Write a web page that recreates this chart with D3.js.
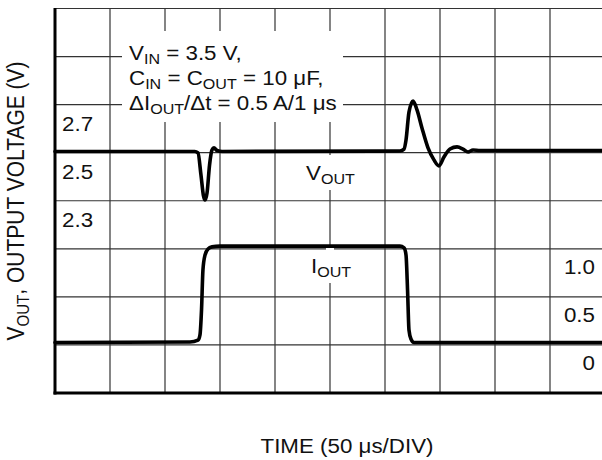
<!DOCTYPE html>
<html>
<head>
<meta charset="utf-8">
<script src="https://cdn.jsdelivr.net/npm/d3@7"></script>
<style>
  html, body { margin: 0; padding: 0; background: #fff; }
  svg { display: block; }
  text { font-family: "Liberation Sans", Arial, Helvetica, sans-serif; fill: #111; }
</style>
</head>
<body>
<svg id="chart" width="602" height="460"></svg>
<script>
// ---- data (time in µs, 50 µs/div) ----
const timeTicks = [0, 50, 100, 150, 200, 250, 300, 350, 400, 450, 500];
const voltGrid = [1.5, 1.7, 1.9, 2.1, 2.3, 2.5, 2.7, 2.9, 3.1];
const voltTickLabels = ["2.7", "2.5", "2.3"];
const voltTickValues = [2.7, 2.5, 2.3];
const currTickLabels = ["1.0", "0.5", "0"];
const currTickValues = [1.0, 0.5, 0];

const voutTime = [0, 127, 130, 132.7, 135, 136.4, 138.2, 140.5, 142.7, 144.5, 147.3, 152,
  313.6, 317.3, 319.1, 321.8, 325.5, 329.1, 333.6, 339.1, 344.5, 349.1, 353.6, 359.1,
  365.5, 370.9, 375.5, 380, 386.4, 500];
const voutValue = [2.505, 2.505, 2.499, 2.407, 2.32, 2.303, 2.332, 2.449, 2.511, 2.52, 2.509, 2.505,
  2.507, 2.515, 2.553, 2.669, 2.715, 2.678, 2.603, 2.52, 2.47, 2.445, 2.482, 2.515,
  2.524, 2.515, 2.503, 2.511, 2.509, 2.509];

const ioutTime = [0, 122.7, 130, 131.8, 133.2, 134.5, 136.4, 139.1, 142.7, 150,
  313.6, 317.3, 319.1, 320.5, 321.8, 323.6, 326.4, 500];
const ioutValue = [0.025, 0.03, 0.05, 0.104, 0.364, 0.78, 0.936, 0.999, 1.02, 1.028,
  1.028, 1.009, 0.936, 0.572, 0.156, 0.062, 0.025, 0.025];

const annotationLines = [
  [["V"], ["IN", 1], [" = 3.5 V,"]],
  [["C"], ["IN", 1], [" = C"], ["OUT", 1], [" = 10 \u03BCF,"]],
  [["\u0394I"], ["OUT", 1], ["/\u0394t = 0.5 A/1 \u03BCs"]]
];
const xTitle = "TIME (50 \u03BCs/DIV)";
const yTitle = [["V"], ["OUT", 1], [", OUTPUT VOLTAGE (V)"]];

// ---- layout ----
const L = 55, R = 605, T = 8.5, B = 393;
const SX = 1.146; // horizontal text stretch
const FS = 19.5;

const svg = d3.select("#chart");
const x = d3.scaleLinear().domain([0, 500]).range([L, R]);
const yV = d3.scaleLinear().domain([1.5, 3.1]).range([B, T]);
const yI = d3.scaleLinear().domain([-0.5, 3.5]).range([B, T]);

// mask for grid gaps behind labels
const defs = svg.append("defs");
const mask = defs.append("mask").attr("id", "gridMask").attr("maskUnits", "userSpaceOnUse")
  .attr("x", 0).attr("y", 0).attr("width", 602).attr("height", 460);
mask.append("rect").attr("x", 0).attr("y", 0).attr("width", 602).attr("height", 460).attr("fill", "#fff");
const gaps = [[122, 31, 221, 91], [300, 155, 62, 35], [297, 252, 66, 31]];
gaps.forEach(g => mask.append("rect").attr("x", g[0]).attr("y", g[1]).attr("width", g[2]).attr("height", g[3]).attr("fill", "#000"));
mask.append("rect").attr("x", 326).attr("y", 245).attr("width", 8).attr("height", 10).attr("fill", "#000");

const grid = svg.append("g").attr("mask", "url(#gridMask)")
  .attr("stroke", "#333").attr("stroke-width", 1.2);

grid.selectAll("line.v").data(timeTicks.slice(1)).join("line")
  .attr("x1", d => x(d)).attr("x2", d => x(d)).attr("y1", T).attr("y2", B);
grid.selectAll("line.h").data(voltGrid.slice(1)).join("line")
  .attr("x1", L).attr("x2", R).attr("y1", d => yV(d)).attr("y2", d => yV(d));

// axes (thick left & bottom)
svg.append("line").attr("x1", L).attr("x2", L).attr("y1", T - 0.5).attr("y2", B + 1.5)
  .attr("stroke", "#000").attr("stroke-width", 3);
svg.append("line").attr("x1", L - 1.5).attr("x2", R).attr("y1", B).attr("y2", B)
  .attr("stroke", "#000").attr("stroke-width", 3);

// traces
const lineV = d3.line().x((d, i) => x(voutTime[i])).y(d => yV(d)).curve(d3.curveMonotoneX);
const lineI = d3.line().x((d, i) => x(ioutTime[i])).y(d => yI(d)).curve(d3.curveMonotoneX);
svg.append("path").attr("d", lineV(voutValue)).attr("fill", "none").attr("stroke", "#000")
  .attr("stroke-width", 3.6).attr("stroke-linejoin", "round").attr("stroke-linecap", "round");
svg.append("path").attr("d", lineI(ioutValue)).attr("fill", "none").attr("stroke", "#000")
  .attr("stroke-width", 3.6).attr("stroke-linejoin", "round").attr("stroke-linecap", "round");

// rich text helper
function rich(g, segs, size) {
  const t = g.append("text").attr("font-size", size);
  let sub = false;
  segs.forEach(s => {
    const ts = t.append("tspan").text(s[0]);
    if (s[1] && !sub) { ts.attr("font-size", size * 0.72).attr("dy", size * 0.22); sub = true; }
    else if (!s[1] && sub) { ts.attr("dy", -size * 0.22); sub = false; }
  });
  return t;
}
function place(px, py, rot) {
  return svg.append("g").attr("transform", `translate(${px},${py}) scale(${SX},1)` + (rot ? ` rotate(${rot})` : ""));
}

// left tick labels (voltage)
voltTickValues.forEach((v, i) => {
  place(62, yV(v) + 26, 0).append("text").attr("font-size", FS).text(voltTickLabels[i]);
});
// right tick labels (current)
currTickValues.forEach((v, i) => {
  place(595, yI(v) + 25, 0).append("text").attr("font-size", FS).attr("text-anchor", "end").text(currTickLabels[i]);
});

// annotation
annotationLines.forEach((segs, i) => {
  rich(place(129, 60 + i * 25, 0), segs, FS);
});

// trace labels
rich(place(306, 180, 0), [["V"], ["OUT", 1]], FS);
rich(place(311, 273, 0), [["I"], ["OUT", 1]], FS);

// axis titles
place(347, 453, 0).append("text").attr("font-size", FS).attr("text-anchor", "middle").text(xTitle);
rich(place(24, 201, -90), yTitle, 21).attr("text-anchor", "middle");
</script>
</body>
</html>
